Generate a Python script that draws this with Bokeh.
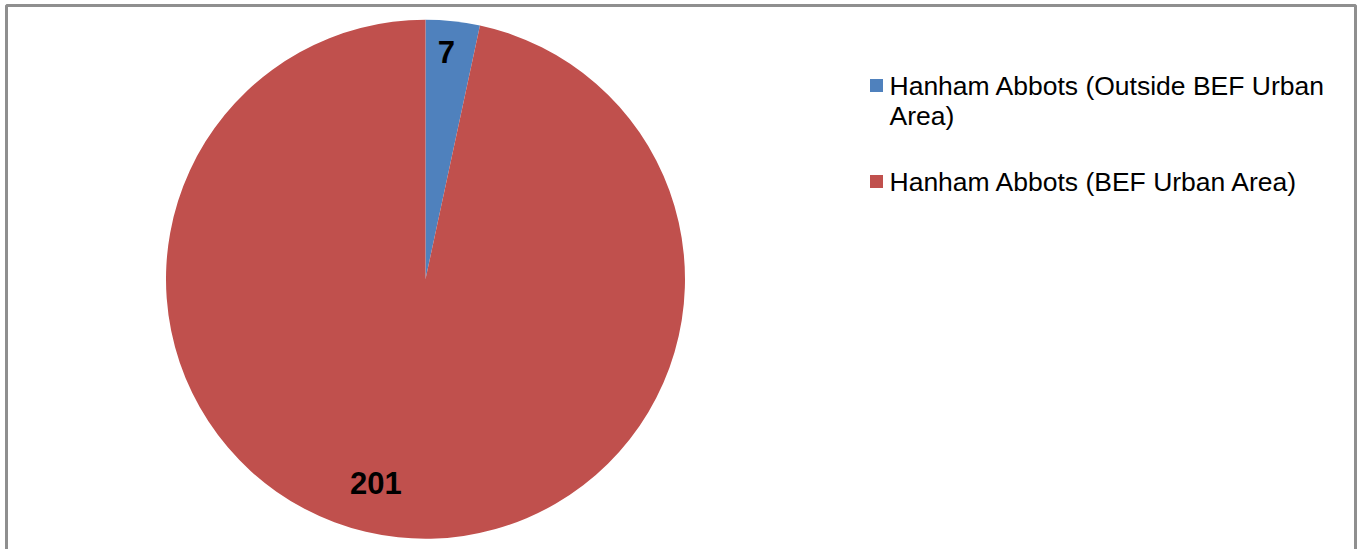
import math
import textwrap
from bokeh.plotting import figure
from bokeh.models import Range1d, ColumnDataSource, BoxAnnotation
from bokeh.core.properties import value
from bokeh.embed import file_html
from bokeh.resources import INLINE

# ---- data ----
categories = ["Hanham Abbots (Outside BEF Urban Area)", "Hanham Abbots (BEF Urban Area)"]
counts = [7, 201]
colors = ["#4F81BD", "#C0504D"]

# ---- layout / style ----
W, H = 1362, 549
CX, CY, R = 425, 270.3, 259.5          # pie centre (data units == px) and radius
label_r = [0.878, 0.81]
label_nudge_deg = [0.8, -7.6]
FONT = "Liberation Sans"

p = figure(width=W, height=H, x_range=Range1d(0, W), y_range=Range1d(0, H),
           output_backend="svg", toolbar_location=None, min_border=0)
p.axis.visible = False
p.grid.visible = False
p.outline_line_color = None
p.background_fill_color = "white"
p.border_fill_color = "white"

# chart-area border
p.add_layout(BoxAnnotation(left=6, right=1355, top=H - 5, bottom=-20, fill_alpha=0,
                           line_color="#8f8f8f", line_alpha=1.0, line_width=3))

total = sum(counts)
starts, ends, mids = [], [], []
a = math.pi / 2
for c in counts:
    span = 2 * math.pi * c / total
    starts.append(a)
    ends.append(a - span)
    mids.append(a - span / 2)
    a -= span

src = ColumnDataSource(dict(start=starts, end=ends, color=colors))
p.wedge(x=CX, y=CY, radius=R, radius_units="screen", start_angle="start", end_angle="end",
        direction="clock", fill_color="color", line_color=None, source=src)

# data labels
lx, ly = [], []
for m, rf, nd in zip(mids, label_r, label_nudge_deg):
    ang = m + math.radians(nd)
    lx.append(CX + rf * R * math.cos(ang))
    ly.append(CY + rf * R * math.sin(ang))
p.text(x=lx, y=ly, text=[str(c) for c in counts], text_align="center", text_baseline="middle",
       text_font=value(FONT), text_font_style="bold", text_font_size="31px", text_color="black")

# legend (manual)
wrapped = [textwrap.fill(c, 32) for c in categories]
LX, LY0 = 876, H - 85
LINE = 29.5
GAP = 37
ys = []
y = LY0
for w in wrapped:
    ys.append(y)
    y -= (w.count("\n") + 1) * LINE + GAP
p.scatter(x=[LX] * len(ys), y=ys, marker="square", size=13, fill_color=colors, line_color=None)
p.text(x=[LX + 13] * len(ys), y=[v + 15 for v in ys], text=wrapped, text_align="left",
       text_baseline="top", text_font=value(FONT), text_font_size="26.5px", text_color="black",
       text_line_height=1.0)

open("out.html", "w").write(file_html(p, INLINE))
